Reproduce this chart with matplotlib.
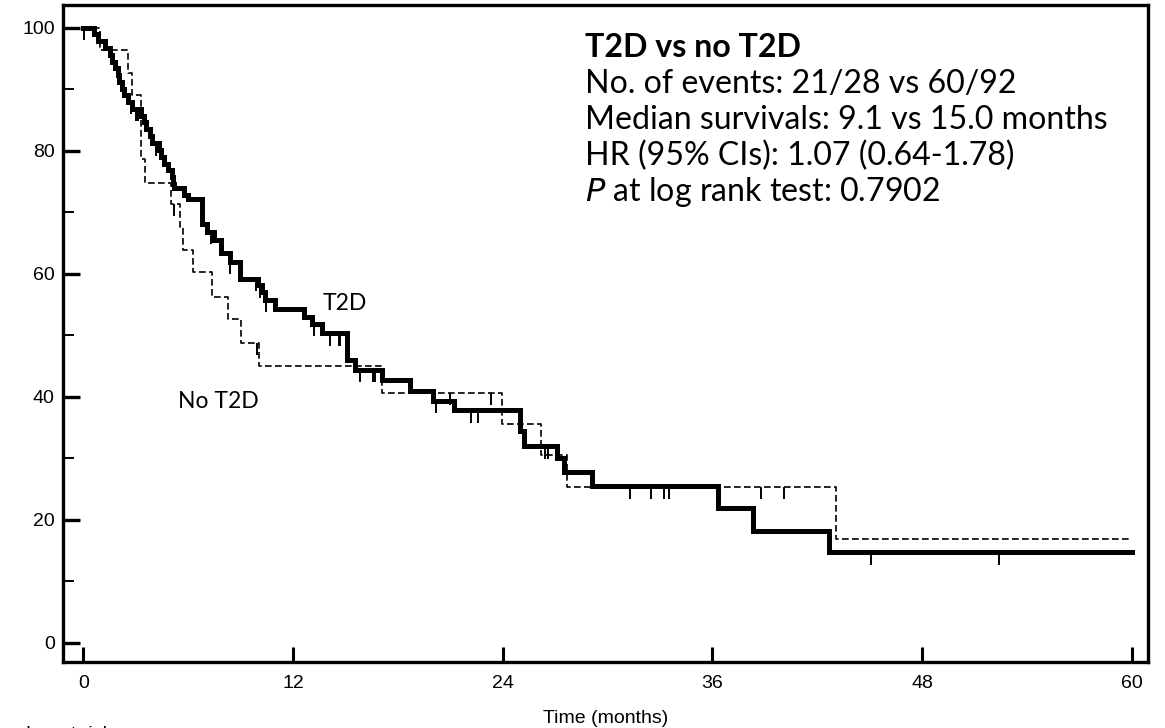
import numpy as np
import matplotlib
matplotlib.use("Agg")
import matplotlib.pyplot as plt

# no T2D group (solid line) - step times (months) and survival (%) after each step
no_t2d_time = [0, 0.6, 0.85, 1.25, 1.5, 1.65, 1.8, 1.95, 2.05, 2.2, 2.3, 2.55, 2.75,
               3.3, 3.45, 3.6, 3.8, 3.9, 4.35, 4.45, 4.6, 4.85, 5.05, 5.15, 5.2,
               5.75, 6.0, 6.8, 7.07, 7.45, 7.9, 8.4, 8.98, 9.97, 10.2, 10.4, 10.98,
               12.6, 13.07, 13.65, 15.1, 15.55, 17.1, 18.7, 20.0, 21.2, 25.0, 25.2,
               27.1, 27.5, 29.1, 36.3, 38.3, 42.65]
no_t2d_surv = [100, 98.9, 97.8, 96.7, 95.6, 94.5, 93.4, 92.3, 91.2, 90.1, 89.0, 87.9, 86.8,
               85.7, 84.6, 83.5, 82.4, 81.2, 80.1, 79.0, 77.9, 76.8, 75.7, 74.6, 73.9,
               72.8, 72.1, 68.1, 66.8, 65.4, 63.3, 61.9, 59.2, 58.1, 57.0, 55.7, 54.3,
               53.0, 51.8, 50.3, 45.9, 44.4, 42.7, 41.0, 39.3, 37.8, 34.5, 31.9,
               30.0, 27.8, 25.4, 21.9, 18.2, 14.7]
no_t2d_cens = [2.7, 3.0, 3.1, 4.16, 7.3, 8.4, 9.9, 10.1, 10.45, 13.2, 14.1, 14.6, 14.7,
               15.8, 16.6, 16.7, 20.2, 22.2, 22.6, 26.4, 26.6, 31.3, 32.5, 33.2, 33.5,
               45.05, 52.4]

# T2D group (dashed line)
t2d_time = [0, 0.93, 2.55, 2.75, 3.32, 3.55, 5.0, 5.55, 5.7, 6.27, 7.33, 8.25, 9.02,
            10.05, 17.1, 23.95, 26.2, 27.7, 43.1]
t2d_surv = [100, 96.4, 92.6, 89.1, 78.6, 74.8, 71.4, 67.6, 63.8, 60.3, 56.2, 52.7, 48.8,
            45.0, 40.6, 35.5, 30.5, 25.3, 16.9]
t2d_cens = [0.05, 5.2, 9.93, 21.0, 23.3, 38.8, 40.1]

end_time = 60

fig = plt.figure(figsize=(11.65, 7.28), dpi=100)
ax = fig.add_axes([0.0541, 0.0907, 0.9313, 0.9025])


def draw_curve(times, surv, cens, lw, ls):
    x = list(times) + [end_time]
    y = list(surv) + [surv[-1]]
    ax.step(x, y, where="post", color="black", lw=lw, linestyle=ls,
            solid_joinstyle="miter")
    idx = np.searchsorted(times, cens, side="right") - 1
    s = np.array(surv)[idx]
    ax.vlines(cens, s - 2.0, s, color="black", lw=1.4)


draw_curve(t2d_time, t2d_surv, t2d_cens, 1.2, (0, (4, 2)))
draw_curve(no_t2d_time, no_t2d_surv, no_t2d_cens, 3.6, "-")

ax.set_xlim(-1.17, 60.93)
ax.set_ylim(-3.14, 103.7)
ax.set_xticks([0, 12, 24, 36, 48, 60])
ax.set_yticks([0, 20, 40, 60, 80, 100])
ax.set_yticks([10, 30, 50, 70, 90], minor=True)
ax.tick_params(axis="x", direction="in", length=10.5, width=2.2, pad=9.5,
               labelsize=14, labelfontfamily="Liberation Sans")
ax.tick_params(axis="y", which="major", direction="in", length=12.5, width=2.4, pad=6,
               labelsize=14, labelfontfamily="Liberation Sans")
ax.tick_params(axis="y", which="minor", direction="in", length=8, width=1.4)
for sp in ax.spines.values():
    sp.set_linewidth(2.4)

ax.set_xlabel("Time (months)", fontsize=14, family="Liberation Sans", labelpad=12.5)

# curve labels
ax.text(14.96, 54.1, "T2D", fontsize=16.5, family="Lato", ha="center", va="baseline")
ax.text(7.75, 38.1, "No T2D", fontsize=16.5, family="Lato", ha="center", va="baseline")

# statistics box
tx = 28.7
fs = 23.1
ax.text(tx, 95.2, "T2D vs no T2D", fontsize=fs, family="Lato", weight="bold", va="baseline")
ax.text(tx, 89.4, "No. of events: 21/28 vs 60/92", fontsize=fs, family="Lato", va="baseline")
ax.text(tx, 83.5, "Median survivals: 9.1 vs 15.0 months", fontsize=fs, family="Lato", va="baseline")
ax.text(tx, 77.7, r"HR (95% CIs): 1.07 (0.64-1.78)", fontsize=fs, family="Lato", va="baseline")
ax.text(tx, 71.8, r"$\it{P}$ at log rank test: 0.7902", fontsize=fs, family="Lato", va="baseline")

# risk table header, cut off at the bottom edge as in the source
fig.text(-15 / 1165, 1 - 726 / 728, "Number at risk", fontsize=14,
         family="Liberation Sans", va="top", ha="left")

fig.savefig("out.png", dpi=100)
